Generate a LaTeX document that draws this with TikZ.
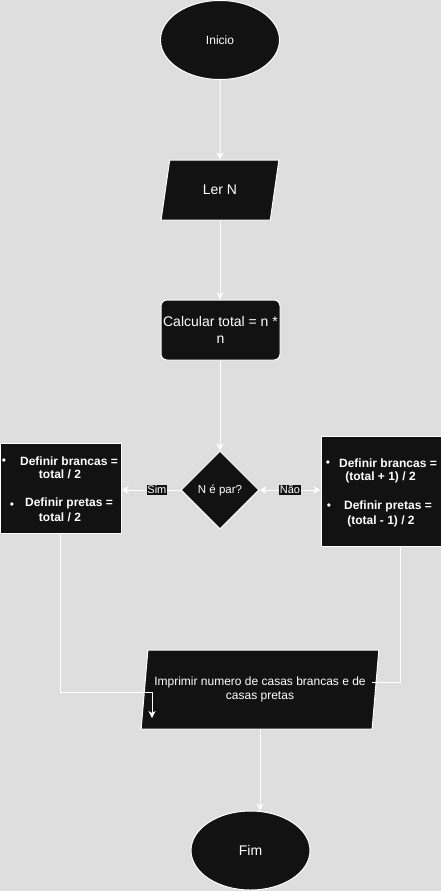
\documentclass[tikz,border=0pt]{standalone}
\usepackage{fontspec}
\setmainfont{Liberation Sans}
\usetikzlibrary{shapes.geometric,arrows.meta}
\definecolor{bgc}{RGB}{222,222,222}
\definecolor{boxc}{RGB}{18,18,18}
\tikzset{
  shp/.style={fill=boxc,draw=white,line width=1pt,text=white,inner sep=0pt,align=center},
  term/.style={shp,ellipse,minimum width=119pt,minimum height=79pt},
  io/.style={shp,trapezium,trapezium stretches=true},
  wire/.style={draw=white,line width=1pt},
  conn/.style={wire,-{Stealth[length=7pt,width=7pt,inset=2pt]}},
  lbl/.style={fill=boxc,text=white,inner sep=0.6pt,font=\fontsize{11}{12}\selectfont},
  bt/.style={text=white,inner sep=0pt,font=\bfseries\fontsize{12}{14}\selectfont},
  bul/.style={text=white,inner sep=0pt,font=\fontsize{12}{12}\selectfont},
}
\begin{document}
\begin{tikzpicture}[x=1pt,y=-1pt]
\fill[bgc] (0,0) rectangle (441,891);
\useasboundingbox (0,0) rectangle (441,891);

\node[term,font=\fontsize{12}{14}\selectfont] (ini) at (220,40) {Inicio};
\node[io,trapezium left angle=73.3,trapezium right angle=106.7,minimum width=118pt,minimum height=60pt,font=\fontsize{14}{16}\selectfont] (ler) at (220,190) {Ler N};
\node[shp,rectangle,rounded corners=6pt,minimum width=119pt,minimum height=60pt,font=\fontsize{14}{17}\selectfont] (calc) at (220.5,330) {Calcular total = n *\\n};
\node[shp,diamond,minimum width=78pt,minimum height=78pt,font=\fontsize{11.5}{13}\selectfont] (dec) at (220,490) {N é par?};

\node[shp,rectangle,minimum width=121pt,minimum height=90pt] (lbox) at (60.5,488) {};
\node[bul] (lb1) at (4,462) {•};
\node[bt] (lt1) at (69,461) {Definir brancas =};
\node[bt] (lt2) at (60,474) {total / 2};
\node[bul] (lb2) at (12,506) {•};
\node[bt] (lt3) at (69,503) {Definir pretas =};
\node[bt] (lt4) at (60,517) {total / 2};

\node[shp,rectangle,minimum width=120pt,minimum height=110pt] (rbox) at (381,491) {};
\node[bul] (rb1) at (328,464) {•};
\node[bt] (rt1) at (388,463) {Definir brancas =};
\node[bt] (rt2) at (380.5,477) {(total + 1) / 2};
\node[bul] (rb2) at (329,507) {•};
\node[bt] (rt3) at (388,506) {Definir pretas =};
\node[bt] (rt4) at (381,521) {(total - 1) / 2};

\node[io,trapezium left angle=76.1,trapezium right angle=103.9,minimum width=238pt,minimum height=79pt,font=\fontsize{12}{14.5}\selectfont] (out) at (260,689.5) {Imprimir numero de casas brancas e de\\casas pretas};
\node[term,font=\fontsize{14}{16}\selectfont] (fim) at (250.5,850.5) {Fim};

\coordinate (lturn) at (152,692);
\coordinate (lend) at (152,718);
\coordinate (rturn) at (371.5,682);

\draw[conn] (ini.south) -- (ler.north);
\draw[conn] (ler.south) -- (calc.north -| ler.south);
\draw[conn] (calc.south -| dec.north) -- (dec.north);
\draw[conn] (dec.west) -- node[lbl,pos=0.4] (sim) {Sim} (dec.west -| lbox.east);
\draw[wire,{Stealth[length=7pt,width=7pt,inset=2pt]}-{Stealth[length=7pt,width=7pt,inset=2pt]}] (dec.east) -- node[lbl] (nao) {Não} (dec.east -| rbox.west);
\draw[conn] (lbox.south) |- (lturn) -- (lend);
\draw[wire] ([xshift=19pt]rbox.south) |- (rturn);
\draw[conn] (out.south) -- (out.south |- fim.north);
\end{tikzpicture}
\end{document}
